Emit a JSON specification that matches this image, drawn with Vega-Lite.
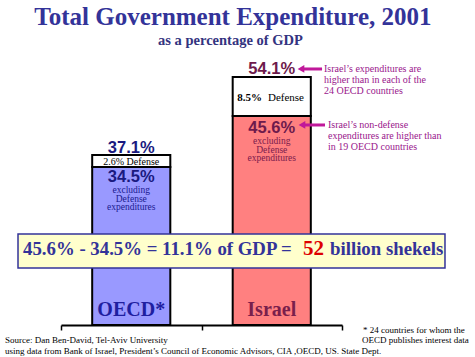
{
  "$schema": "https://vega.github.io/schema/vega-lite/v6.json",
  "width": 281,
  "height": 275,
  "autosize": {"type": "none"},
  "padding": {"left": 61, "top": 50, "right": 133, "bottom": 32},
  "background": "white",
  "config": {"view": {"stroke": null}, "font": "Liberation Serif", "text": {"font": "Liberation Serif"}},
  "datasets": {
    "bars": [
      {"group": "OECD*", "segment": "OECD* excluding defense", "from": 0, "to": 34.5},
      {"group": "OECD*", "segment": "OECD* defense", "from": 34.5, "to": 37.1},
      {"group": "Israel", "segment": "Israel excluding defense", "from": 0, "to": 45.6},
      {"group": "Israel", "segment": "Israel defense", "from": 45.6, "to": 54.1}
    ],
    "box": [{"p": -0.306, "p2": 2.733, "v": 12.44, "v2": 19.86}],
    "arrows": [
      {"p": 1.708, "p2": 1.858, "v": 55.86},
      {"p": 1.715, "p2": 1.879, "v": 43.64}
    ],
    "notes": [
      {"kind": "title", "p": 1.224, "v": 65.46, "text": "Total Government Expenditure, 2001"},
      {"kind": "subtitle", "p": 1.206, "v": 61.1, "text": "as a percentage of GDP"},
      {"kind": "pct-oecd", "p": 0.5, "v": 37.53, "text": "37.1%"},
      {"kind": "pct-oecd", "p": 0.5, "v": 31.2, "text": "34.5%"},
      {"kind": "pct-israel", "p": 1.5, "v": 54.66, "text": "54.1%"},
      {"kind": "pct-israel", "p": 1.5, "v": 41.9, "text": "45.6%"},
      {"kind": "small-oecd", "p": 0.5, "v": 29.46, "text": "excluding"},
      {"kind": "small-oecd", "p": 0.5, "v": 27.49, "text": "Defense"},
      {"kind": "small-oecd", "p": 0.5, "v": 25.64, "text": "expenditures"},
      {"kind": "small-israel", "p": 1.5, "v": 40.15, "text": "excluding"},
      {"kind": "small-israel", "p": 1.5, "v": 38.18, "text": "Defense"},
      {"kind": "small-israel", "p": 1.5, "v": 36.33, "text": "expenditures"},
      {"kind": "defense", "p": 0.5, "v": 35.57, "text": "2.6% Defense"},
      {"kind": "defense-bold", "p": 1.431, "v": 49.5, "text": "8.5%"},
      {"kind": "defense-word", "p": 1.473, "v": 49.5, "text": "Defense"},
      {"kind": "name-oecd", "p": 0.5, "v": 1.96, "text": "OECD*"},
      {"kind": "name-israel", "p": 1.5, "v": 1.96, "text": "Israel"},
      {"kind": "note", "p": 1.872, "v": 55.86, "text": "Israel’s expenditures are"},
      {"kind": "note", "p": 1.872, "v": 53.46, "text": "higher than in each of the"},
      {"kind": "note", "p": 1.872, "v": 50.95, "text": "24  OECD countries"},
      {"kind": "note", "p": 1.9, "v": 43.64, "text": "Israel’s non-defense"},
      {"kind": "note", "p": 1.9, "v": 41.24, "text": "expenditures are higher than"},
      {"kind": "note", "p": 1.9, "v": 38.9, "text": "in 19  OECD countries"},
      {"kind": "box-main", "p": -0.27, "v": 15.27, "text": "45.6% - 34.5% =  11.1% of GDP ="},
      {"kind": "box-main", "p": 1.915, "v": 15.27, "text": "billion shekels"},
      {"kind": "box-52", "p": 1.722, "v": 15.27, "text": "52"},
      {"kind": "source", "p": -0.399, "v": -3.27, "text": "Source: Dan Ben-David, Tel-Aviv University"},
      {"kind": "source", "p": -0.399, "v": -5.67, "text": "using data from Bank of Israel, President’s Council of Economic Advisors, CIA ,OECD, US. State Dept."},
      {"kind": "source", "p": 2.149, "v": -1.09, "text": "* 24 countries for whom the"},
      {"kind": "source", "p": 2.142, "v": -3.27, "text": "OECD  publishes interest data"}
    ]
  },
  "resolve": {"scale": {"x": "independent", "color": "independent"}},
  "layer": [
    {
      "data": {"name": "bars"},
      "mark": {"type": "bar", "width": {"band": 0.556}, "stroke": "black", "strokeWidth": 2},
      "encoding": {
        "x": {
          "field": "group", "type": "nominal", "sort": ["OECD*", "Israel"],
          "scale": {"paddingInner": 0, "paddingOuter": 0},
          "axis": {"title": null, "labels": false, "tickBand": "extent", "domainColor": "black", "domainWidth": 2, "tickColor": "black", "tickWidth": 1.5, "tickSize": 5, "grid": false}
        },
        "y": {"field": "from", "type": "quantitative", "scale": {"domain": [0, 60], "nice": false, "zero": false}, "axis": null},
        "y2": {"field": "to"},
        "color": {
          "field": "segment", "type": "nominal",
          "scale": {"domain": ["OECD* excluding defense", "OECD* defense", "Israel excluding defense", "Israel defense"], "range": ["#9999FF", "#FFFFFF", "#FF8080", "#FFFFFF"]},
          "legend": null
        }
      }
    },
    {
      "encoding": {
        "x": {"field": "p", "type": "quantitative", "scale": {"domain": [0, 2], "nice": false, "zero": false}, "axis": null},
        "y": {"field": "v", "type": "quantitative", "axis": null}
      },
      "layer": [
        {
          "data": {"name": "box"},
          "mark": {"type": "rect", "fill": "#FFFFCC", "stroke": "#333399", "strokeWidth": 1.5, "clip": false},
          "encoding": {"x2": {"field": "p2"}, "y2": {"field": "v2"}}
        },
        {
          "data": {"name": "arrows"},
          "mark": {"type": "rule", "stroke": "#C0189A", "strokeWidth": 3},
          "encoding": {"x2": {"field": "p2"}}
        },
        {
          "data": {"name": "arrows"},
          "mark": {"type": "point", "shape": "triangle-left", "filled": true, "fill": "#C0189A", "size": 60, "opacity": 1},
          "encoding": {}
        },
        {
          "data": {"name": "notes"},
          "transform": [{"filter": "datum.kind === 'title'"}],
          "mark": {"type": "text", "font": "Liberation Serif", "fontWeight": "bold", "fontSize": 25, "color": "#333399", "align": "center", "baseline": "alphabetic"},
          "encoding": {"text": {"field": "text"}}
        },
        {
          "data": {"name": "notes"},
          "transform": [{"filter": "datum.kind === 'subtitle'"}],
          "mark": {"type": "text", "font": "Liberation Serif", "fontWeight": "bold", "fontSize": 14.5, "color": "#333380", "align": "center", "baseline": "alphabetic"},
          "encoding": {"text": {"field": "text"}}
        },
        {
          "data": {"name": "notes"},
          "transform": [{"filter": "datum.kind === 'pct-oecd'"}],
          "mark": {"type": "text", "font": "Liberation Sans", "fontWeight": "bold", "fontSize": 16.5, "color": "#1a1a80", "align": "center", "baseline": "alphabetic"},
          "encoding": {"text": {"field": "text"}}
        },
        {
          "data": {"name": "notes"},
          "transform": [{"filter": "datum.kind === 'pct-israel'"}],
          "mark": {"type": "text", "font": "Liberation Sans", "fontWeight": "bold", "fontSize": 16.5, "color": "#6e1a4c", "align": "center", "baseline": "alphabetic"},
          "encoding": {"text": {"field": "text"}}
        },
        {
          "data": {"name": "notes"},
          "transform": [{"filter": "datum.kind === 'small-oecd'"}],
          "mark": {"type": "text", "font": "Liberation Serif", "fontSize": 9.5, "color": "#1a1a90", "align": "center", "baseline": "middle"},
          "encoding": {"text": {"field": "text"}}
        },
        {
          "data": {"name": "notes"},
          "transform": [{"filter": "datum.kind === 'small-israel'"}],
          "mark": {"type": "text", "font": "Liberation Serif", "fontSize": 9.5, "color": "#7a1a4c", "align": "center", "baseline": "middle"},
          "encoding": {"text": {"field": "text"}}
        },
        {
          "data": {"name": "notes"},
          "transform": [{"filter": "datum.kind === 'defense'"}],
          "mark": {"type": "text", "font": "Liberation Serif", "fontSize": 10, "color": "black", "align": "center", "baseline": "middle"},
          "encoding": {"text": {"field": "text"}}
        },
        {
          "data": {"name": "notes"},
          "transform": [{"filter": "datum.kind === 'defense-bold'"}],
          "mark": {"type": "text", "font": "Liberation Serif", "fontWeight": "bold", "fontSize": 11, "color": "black", "align": "right", "baseline": "middle"},
          "encoding": {"text": {"field": "text"}}
        },
        {
          "data": {"name": "notes"},
          "transform": [{"filter": "datum.kind === 'defense-word'"}],
          "mark": {"type": "text", "font": "Liberation Serif", "fontSize": 11, "color": "black", "align": "left", "baseline": "middle"},
          "encoding": {"text": {"field": "text"}}
        },
        {
          "data": {"name": "notes"},
          "transform": [{"filter": "datum.kind === 'name-oecd'"}],
          "mark": {"type": "text", "font": "Liberation Serif", "fontWeight": "bold", "fontSize": 20, "color": "#1f1fa0", "align": "center", "baseline": "alphabetic"},
          "encoding": {"text": {"field": "text"}}
        },
        {
          "data": {"name": "notes"},
          "transform": [{"filter": "datum.kind === 'name-israel'"}],
          "mark": {"type": "text", "font": "Liberation Serif", "fontWeight": "bold", "fontSize": 20, "color": "#7a1f4c", "align": "center", "baseline": "alphabetic"},
          "encoding": {"text": {"field": "text"}}
        },
        {
          "data": {"name": "notes"},
          "transform": [{"filter": "datum.kind === 'note'"}],
          "mark": {"type": "text", "font": "Liberation Serif", "fontSize": 10, "color": "#99168c", "align": "left", "baseline": "middle"},
          "encoding": {"text": {"field": "text"}}
        },
        {
          "data": {"name": "notes"},
          "transform": [{"filter": "datum.kind === 'box-main'"}],
          "mark": {"type": "text", "font": "Liberation Serif", "fontWeight": "bold", "fontSize": 18.8, "color": "#333399", "align": "left", "baseline": "alphabetic"},
          "encoding": {"text": {"field": "text"}}
        },
        {
          "data": {"name": "notes"},
          "transform": [{"filter": "datum.kind === 'box-52'"}],
          "mark": {"type": "text", "font": "Liberation Serif", "fontWeight": "bold", "fontSize": 21, "color": "#DD0000", "align": "left", "baseline": "alphabetic"},
          "encoding": {"text": {"field": "text"}}
        },
        {
          "data": {"name": "notes"},
          "transform": [{"filter": "datum.kind === 'source'"}],
          "mark": {"type": "text", "font": "Liberation Serif", "fontSize": 9, "color": "black", "align": "left", "baseline": "middle"},
          "encoding": {"text": {"field": "text"}}
        }
      ]
    }
  ]
}
